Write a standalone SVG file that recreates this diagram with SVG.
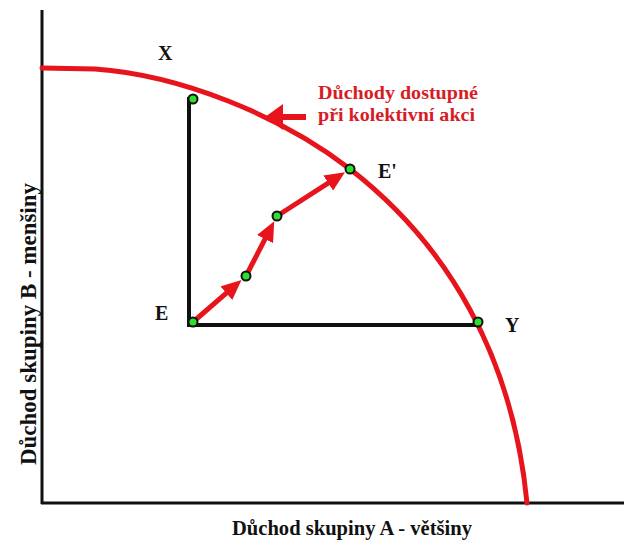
<svg xmlns="http://www.w3.org/2000/svg" width="624" height="549" viewBox="0 0 624 549">
  <style>
    .axis { stroke: #111; stroke-width: 3; fill: none; }
    .box { stroke: #111; stroke-width: 4; fill: none; }
    .curve { stroke: #e8141c; stroke-width: 5; fill: none; stroke-linecap: round; }
    .step { stroke: #e8141c; stroke-width: 5; fill: none; }
    .dot { fill: #2ee02e; stroke: #111; stroke-width: 2; }
    .lbl { font-family: "Liberation Serif", "DejaVu Serif", serif; font-weight: bold; fill: #111; }
    .red { font-family: "Liberation Serif", "DejaVu Serif", serif; font-weight: bold; fill: #d81c26; font-size: 19.5px; }
  </style>
  <defs>
    <marker id="head" markerUnits="userSpaceOnUse" markerWidth="20" markerHeight="18" refX="6" refY="9" orient="auto">
      <path d="M0,0 L20,9 L0,18 z" fill="#e8141c"/>
    </marker>
    <marker id="bighead" markerUnits="userSpaceOnUse" markerWidth="18" markerHeight="26" refX="4" refY="13" orient="auto">
      <path d="M0,0 L18,13 L0,26 z" fill="#e8141c"/>
    </marker>
  </defs>

  <g id="axes">
    <line class="axis" x1="42" y1="10" x2="42" y2="504"/>
    <line class="axis" x1="41" y1="503" x2="624" y2="503"/>
  </g>

  <g id="frontier">
    <path class="curve" d="M42,68 L95,69 C180,75 280,115 350,169 C448,245 513,357 527,503"/>
  </g>

  <g id="box">
    <line class="box" x1="189" y1="97" x2="189" y2="327"/>
    <line class="box" x1="187" y1="325" x2="480" y2="325"/>
  </g>

  <g id="connectors">
    <line class="step" x1="193" y1="322" x2="230.9" y2="289.2" marker-end="url(#head)"/>
    <line class="step" x1="246" y1="276" x2="267.8" y2="233.7" marker-end="url(#head)"/>
    <line class="step" x1="277" y1="216" x2="333.2" y2="179.8" marker-end="url(#head)"/>
    <line stroke="#e8141c" stroke-width="6" x1="306" y1="117" x2="279" y2="117" marker-end="url(#bighead)"/>
  </g>

  <g id="node-X">
    <circle class="dot" cx="193" cy="99" r="4.5"/>
    <text class="lbl" x="158" y="60" font-size="20">X</text>
  </g>
  <g id="node-E">
    <circle class="dot" cx="193" cy="322" r="4.5"/>
    <text class="lbl" x="155" y="320" font-size="20">E</text>
  </g>
  <g id="node-step1">
    <circle class="dot" cx="246" cy="276" r="4.5"/>
  </g>
  <g id="node-step2">
    <circle class="dot" cx="277" cy="216" r="4.5"/>
  </g>
  <g id="node-E2">
    <circle class="dot" cx="350" cy="169" r="4.5"/>
    <text class="lbl" x="378" y="178" font-size="20">E'</text>
  </g>
  <g id="node-Y">
    <circle class="dot" cx="478" cy="322" r="4.5"/>
    <text class="lbl" x="505" y="332" font-size="20">Y</text>
  </g>

  <g id="frontier-label">
    <text class="red" x="318" y="99" textLength="160" lengthAdjust="spacingAndGlyphs">Důchody dostupné</text>
    <text class="red" x="318" y="121" textLength="157" lengthAdjust="spacingAndGlyphs">při kolektivní akci</text>
  </g>

  <g id="axis-labels">
    <text class="lbl" x="232" y="535" font-size="20.5" textLength="240" lengthAdjust="spacingAndGlyphs">Důchod skupiny A - většiny</text>
    <text class="lbl" transform="translate(36,465) rotate(-90)" x="0" y="0" font-size="23" textLength="282" lengthAdjust="spacingAndGlyphs">Důchod skupiny B - menšiny</text>
  </g>
</svg>
